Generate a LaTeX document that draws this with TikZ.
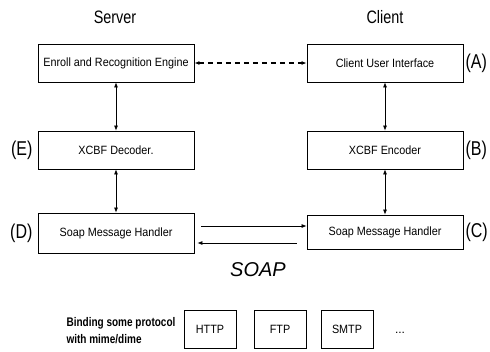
\documentclass[tikz,border=0pt]{standalone}
\usepackage{fontspec}
\setmainfont{Liberation Sans}
\newfontfamily\boxfont{Liberation Sans}[FakeStretch=0.9]
\newfontfamily\headfont{Liberation Sans}[FakeStretch=0.8]
\usetikzlibrary{positioning,arrows.meta}

\begin{document}
\begin{tikzpicture}[x=1pt,y=-1pt,
    blk/.style={draw,line width=0.8pt,minimum width=156pt,minimum height=38pt,
      font=\boxfont\fontsize{12}{14}\selectfont},
    proto/.style={draw,line width=0.8pt,minimum width=52pt,minimum height=38pt,
      font=\boxfont\fontsize{12}{14}\selectfont},
    tag/.style={inner sep=0pt,font=\headfont\fontsize{20}{22}\selectfont},
    side/.style={font=\headfont\fontsize{18}{20}\selectfont},
    link/.style={line width=0.7pt,-{Latex[length=5pt,width=4pt]}},
    twoway/.style={line width=0.7pt,{Latex[length=5pt,width=4pt]}-{Latex[length=5pt,width=4pt]}}]
  \useasboundingbox (0,0) rectangle (490,351);
  % the two sides
  \node[side] (server) at (115,17) {Server};
  \node[side] (client) at (385,17) {Client};
  \node[blk] (engine) at (116,63) {Enroll and Recognition Engine};
  \node[blk] (ui) at (385,63) {Client User Interface};
  \node[blk] (decoder) at (116,150) {XCBF Decoder.};
  \node[blk] (encoder) at (385,150) {XCBF Encoder};
  \node[blk,minimum height=40pt] (soapS) at (116,233) {Soap Message Handler};
  \node[blk,minimum height=34pt] (soapC) at (385,232) {Soap Message Handler};
  % letters
  \node[tag,right=2pt of ui] (A) {(A)};
  \node[tag,right=2pt of encoder] (B) {(B)};
  \node[tag,right=2pt of soapC] (C) {(C)};
  \node[tag,left=5pt of soapS] (D) {(D)};
  \node[tag,left=5pt of decoder] (E) {(E)};
  % connectors
  \draw[twoway,line width=1.3pt,dash pattern=on 5pt off 4pt] (engine) -- (ui);
  \draw[twoway] (engine) -- (decoder);
  \draw[twoway] (decoder) -- (soapS);
  \draw[twoway] (ui) -- (encoder);
  \draw[twoway] (encoder) -- (soapC);
  \draw[link,shorten <=7pt] ([yshift=7pt]soapS.east) -- ([yshift=7pt]soapS.east -| soapC.west);
  \draw[link,shorten <=10pt,shorten >=3pt] ([yshift=-10pt]soapS.east -| soapC.west) -- ([yshift=-10pt]soapS.east);
  \node[font=\fontsize{20}{22}\selectfont\itshape] (soap) at (258,270) {SOAP};
  % bindings
  \node[font=\headfont\bfseries\fontsize{12.5}{17}\selectfont,align=left] (bind) at (121,331)
    {Binding some protocol\\with mime/dime};
  \node[proto] (http) at (210,329) {HTTP};
  \node[proto] (ftp) at (280,329) {FTP};
  \node[proto] (smtp) at (347,329) {SMTP};
  \node[font=\fontsize{12}{14}\selectfont] (more) at (400,333) {...};
\end{tikzpicture}
\end{document}
